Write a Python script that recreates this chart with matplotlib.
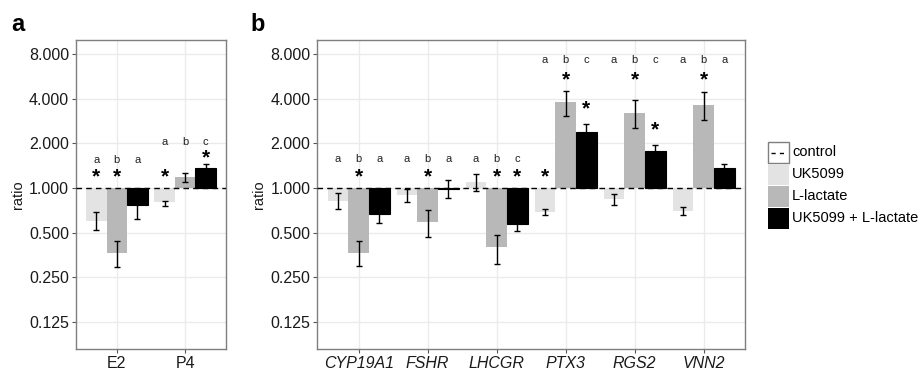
import numpy as np
import matplotlib
matplotlib.use('Agg')
import matplotlib.pyplot as plt
from matplotlib.patches import Rectangle
from matplotlib.lines import Line2D
from matplotlib.transforms import ScaledTranslation

plt.rcParams['font.family'] = ['Liberation Sans', 'DejaVu Sans']

treatments = ['UK5099', 'L-lactate', 'UK5099 + L-lactate']
colors = ['#e3e3e3', '#b8b8b8', '#000000']

# panel a: hormones
hormones = ['E2', 'P4']
a_mean = [[0.60, 0.367, 0.77],
          [0.80, 1.18, 1.36]]
a_low = [[0.52, 0.295, 0.62],
         [0.76, 1.10, 1.26]]
a_high = [[0.69, 0.44, 0.88],
          [0.82, 1.27, 1.46]]
a_letters = [['a', 'b', 'a'], ['a', 'b', 'c']]
a_letter_y = [1.55, 2.05]
a_stars = [[1.27, 1.27, None], [1.27, None, 1.70]]

# panel b: genes
genes = ['CYP19A1', 'FSHR', 'LHCGR', 'PTX3', 'RGS2', 'VNN2']
b_mean = [[0.82, 0.367, 0.67],
          [0.90, 0.59, 0.99],
          [1.10, 0.40, 0.57],
          [0.69, 3.78, 2.37],
          [0.84, 3.20, 1.78],
          [0.70, 3.63, 1.36]]
b_low = [[0.72, 0.30, 0.58],
         [0.81, 0.47, 0.86],
         [0.96, 0.31, 0.51],
         [0.66, 3.07, 2.10],
         [0.77, 2.53, 1.62],
         [0.66, 2.85, 1.26]]
b_high = [[0.93, 0.44, 0.76],
          [0.98, 0.71, 1.14],
          [1.24, 0.48, 0.63],
          [0.72, 4.50, 2.68],
          [0.91, 3.92, 1.94],
          [0.75, 4.41, 1.46]]
b_letters = [['a', 'b', 'a'], ['a', 'b', 'a'], ['a', 'b', 'c'],
             ['a', 'b', 'c'], ['a', 'b', 'c'], ['a', 'b', 'a']]
b_letter_y = [1.56, 1.56, 1.56, 7.27, 7.27, 7.27]
b_stars = [[None, 1.27, None], [None, 1.27, None], [None, 1.27, 1.27],
           [1.27, 5.66, 3.62], [None, 5.66, 2.61], [None, 5.66, None]]

yticks = [0.125, 0.25, 0.5, 1, 2, 4, 8]

fig = plt.figure(figsize=(9.21, 3.74), dpi=100)
ax_a = fig.add_axes([0.0825, 0.0668, 0.1629, 0.8262])
ax_b = fig.add_axes([0.3445, 0.0668, 0.4645, 0.8262])


def draw_panel(ax, cats, mean, low, high, letters, letter_y, stars, italic):
    x = np.arange(1, len(cats) + 1)
    w = 0.3
    # asterisk glyph sits high in its box, push it down a little
    star_tr = ax.transData + ScaledTranslation(0, -4 / 100, fig.dpi_scale_trans)
    for j in range(3):
        xs = x + (j - 1) * w
        m = np.array([row[j] for row in mean])
        lo = np.array([row[j] for row in low])
        hi = np.array([row[j] for row in high])
        ax.bar(xs, m - 1, bottom=1, width=w, color=colors[j],
               edgecolor='black' if j == 2 else 'none', linewidth=0.8, zorder=2)
        ax.errorbar(xs, m, yerr=[m - lo, hi - m], fmt='none', ecolor='black',
                    elinewidth=1.0, capsize=2, capthick=1.0, zorder=4)
        for i in range(len(cats)):
            ax.text(xs[i], letter_y[i], letters[i][j], ha='center', va='center',
                    fontsize=8, color='#222222', zorder=5)
            if stars[i][j] is not None:
                ax.text(xs[i], stars[i][j], '*', ha='center', va='center',
                        fontsize=15, fontweight='bold', zorder=5, transform=star_tr)
    ax.axhline(1, color='black', linestyle=(0, (4, 3)), linewidth=1.0, zorder=3)
    ax.set_yscale('log', base=2)
    ax.set_ylim(2 ** -3.6, 2 ** 3.31)
    ax.set_xlim(0.4, len(cats) + 0.6)
    ax.set_yticks(yticks)
    ax.set_yticklabels(['%.3f' % t for t in yticks], fontsize=11.5)
    ax.yaxis.set_minor_locator(matplotlib.ticker.NullLocator())
    ax.set_xticks(x)
    ax.set_xticklabels(cats, fontsize=11.5, style='italic' if italic else 'normal')
    ax.grid(True, color='#ebebeb', linewidth=1.0, zorder=0)
    ax.set_axisbelow(True)
    ax.tick_params(length=3, color='#555555', width=0.8, pad=2, labelcolor='#1a1a1a')
    for s in ax.spines.values():
        s.set_color('#7f7f7f')
        s.set_linewidth(1.0)
    ax.set_ylabel('ratio', fontsize=10.5, color='#1a1a1a', labelpad=3)


draw_panel(ax_a, hormones, a_mean, a_low, a_high, a_letters, a_letter_y, a_stars, False)
draw_panel(ax_b, genes, b_mean, b_low, b_high, b_letters, b_letter_y, b_stars, True)

fig.text(0.012, 0.918, 'a', fontsize=17, fontweight='bold', va='baseline')
fig.text(0.272, 0.918, 'b', fontsize=17, fontweight='bold', va='baseline')

# legend
kw, kh = 21 / 921, 21 / 374
lx = 768 / 921
ytop = 1 - 142 / 374
labels = ['control'] + treatments
for k, lab in enumerate(labels):
    y0 = ytop - (k + 1) * kh - k * (1 / 374)
    if k == 0:
        fig.patches.append(Rectangle((lx, y0), kw, kh, transform=fig.transFigure,
                                     facecolor='white', edgecolor='#7f7f7f', linewidth=1.0))
        fig.lines.append(Line2D([lx + 0.15 * kw, lx + 0.85 * kw], [y0 + kh / 2, y0 + kh / 2],
                                transform=fig.transFigure, color='black',
                                linestyle=(0, (3, 3)), linewidth=1.0))
    else:
        fig.patches.append(Rectangle((lx, y0), kw, kh, transform=fig.transFigure,
                                     facecolor=colors[k - 1], edgecolor='none'))
    fig.text(lx + kw + 3 / 921, y0 + kh / 2, lab, va='center', ha='left', fontsize=10.5)

fig.savefig('out.png', dpi=100)
